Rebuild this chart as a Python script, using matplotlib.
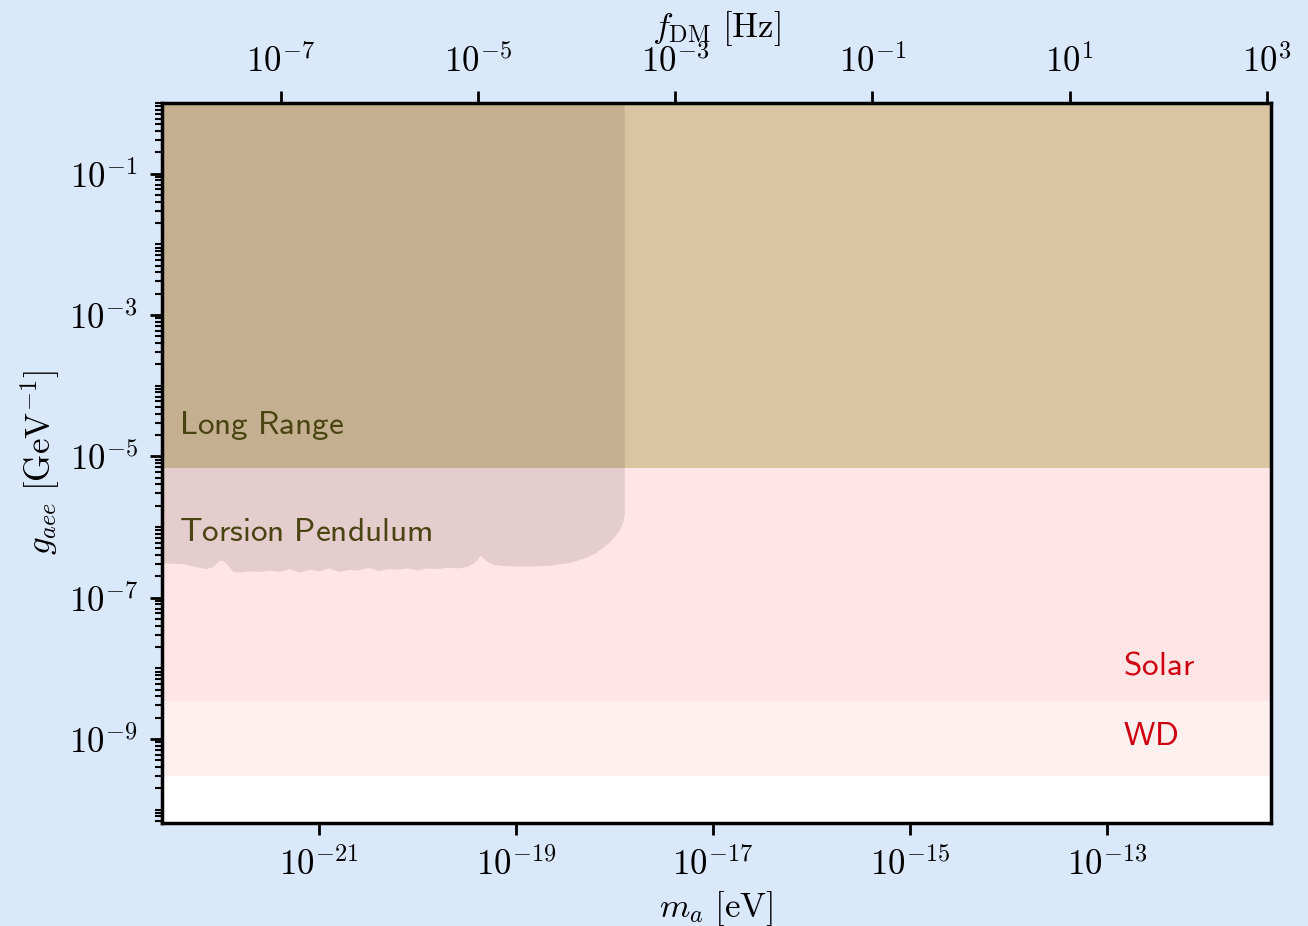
import numpy as np
import matplotlib
matplotlib.use("Agg")
import matplotlib.pyplot as plt
from matplotlib.ticker import FixedLocator, NullLocator, NullFormatter, FuncFormatter

plt.rcParams['mathtext.fontset'] = 'cm'

# m_a [eV] -> f_DM [Hz]
EV_TO_HZ = 2.418e14

# axis ranges (log10)
xlim_log = (-22.59, -11.34)
ylim_log = (-10.19, 0.0)

# constant bounds on g_aee [GeV^-1]
long_range_g = 6.9e-6
solar_g = 3.4e-9
wd_g = 3.0e-10

# torsion pendulum exclusion edge (log10 m_a [eV], log10 g_aee)
tp_logm = [-22.60, -22.37, -22.25, -22.15, -22.07, -22.02, -21.98, -21.93, -21.87, -21.80,
           -21.70, -21.60, -21.50, -21.40, -21.30, -21.20, -21.10, -21.00, -20.90, -20.80,
           -20.70, -20.60, -20.50, -20.40, -20.30, -20.20, -20.10, -20.00, -19.90, -19.80,
           -19.70, -19.60, -19.50, -19.42, -19.36, -19.30, -19.23, -19.10, -18.98, -18.80,
           -18.65, -18.45, -18.31, -18.20, -18.11, -18.03, -17.97, -17.93, -17.91, -17.90]
tp_logg = [-6.51, -6.52, -6.56, -6.59, -6.56, -6.48, -6.47, -6.53, -6.63, -6.64,
           -6.62, -6.63, -6.61, -6.63, -6.59, -6.64, -6.60, -6.62, -6.58, -6.63,
           -6.60, -6.61, -6.57, -6.62, -6.59, -6.60, -6.58, -6.61, -6.58, -6.59,
           -6.57, -6.58, -6.56, -6.50, -6.40, -6.48, -6.53, -6.55, -6.55, -6.55,
           -6.54, -6.50, -6.44, -6.37, -6.28, -6.18, -6.08, -5.98, -5.90, -5.80]

x_major = [-21, -19, -17, -15, -13]
f_major = [-7, -5, -3, -1, 1, 3]
y_major = [-9, -7, -5, -3, -1]


def pow10(v, pos):
    return r'$10^{%d}$' % int(round(np.log10(v)))


fig = plt.figure(figsize=(1308 / 250, 926 / 250), dpi=250, facecolor='#dae8fc')
ax = fig.add_axes([0.1239, 0.1112, 0.8478, 0.7776])
ax.set_xscale('log')
ax.set_yscale('log')

ax.axhspan(wd_g, 1.0, color='#fff0f0', lw=0)
ax.axhspan(solar_g, 1.0, color='#ffe5e5', lw=0)
ax.axhspan(long_range_g, 1.0, color='#dbc4a2', lw=0)

m = 10.0 ** np.array(tp_logm)
g = 10.0 ** np.array(tp_logg)
ax.fill_between(m, g, 1.0, color='k', alpha=0.1, lw=0)

ax.text(10 ** -22.42, 10 ** -4.57, r'$\mathsf{Long\ Range}$', color='#4a4312', fontsize=9.6, va='center')
ax.text(10 ** -22.42, 10 ** -6.07, r'$\mathsf{Torsion\ Pendulum}$', color='#4a4312', fontsize=9.6, va='center')
ax.text(10 ** -12.84, 10 ** -7.95, r'$\mathsf{Solar}$', color='#d00010', fontsize=9.6, va='center')
ax.text(10 ** -12.84, 10 ** -8.95, r'$\mathsf{WD}$', color='#d00010', fontsize=9.6, va='center')

ax.set_xlim(10 ** xlim_log[0], 10 ** xlim_log[1])
ax.set_ylim(10 ** ylim_log[0], 10 ** ylim_log[1])

ax.xaxis.set_major_locator(FixedLocator(10.0 ** np.array(x_major)))
ax.xaxis.set_major_formatter(FuncFormatter(pow10))
ax.xaxis.set_minor_locator(NullLocator())
ax.yaxis.set_major_locator(FixedLocator(10.0 ** np.array(y_major)))
ax.yaxis.set_major_formatter(FuncFormatter(pow10))
y_minor = [s * 10.0 ** d for d in range(-11, 1) for s in range(1, 10)
           if not (s == 1 and d in y_major)]
ax.yaxis.set_minor_locator(FixedLocator(y_minor))
ax.yaxis.set_minor_formatter(NullFormatter())

for sp in ax.spines.values():
    sp.set_linewidth(1.0)

secax = ax.secondary_xaxis('top', functions=(lambda x: x * EV_TO_HZ, lambda f: f / EV_TO_HZ))
secax.xaxis.set_major_locator(FixedLocator(10.0 ** np.array(f_major)))
secax.xaxis.set_major_formatter(FuncFormatter(pow10))
secax.xaxis.set_minor_locator(NullLocator())
secax.set_xlabel(r'$f_{\rm DM}\ [\mathrm{Hz}]$', fontsize=10, labelpad=2)

ax.set_xlabel(r'$m_a\ [\mathrm{eV}]$', fontsize=10, labelpad=2)
ax.set_ylabel(r'$g_{aee}\ [\mathrm{GeV}^{-1}]$', fontsize=10, labelpad=2)

fig.savefig('out.png', dpi=250, facecolor=fig.get_facecolor())
